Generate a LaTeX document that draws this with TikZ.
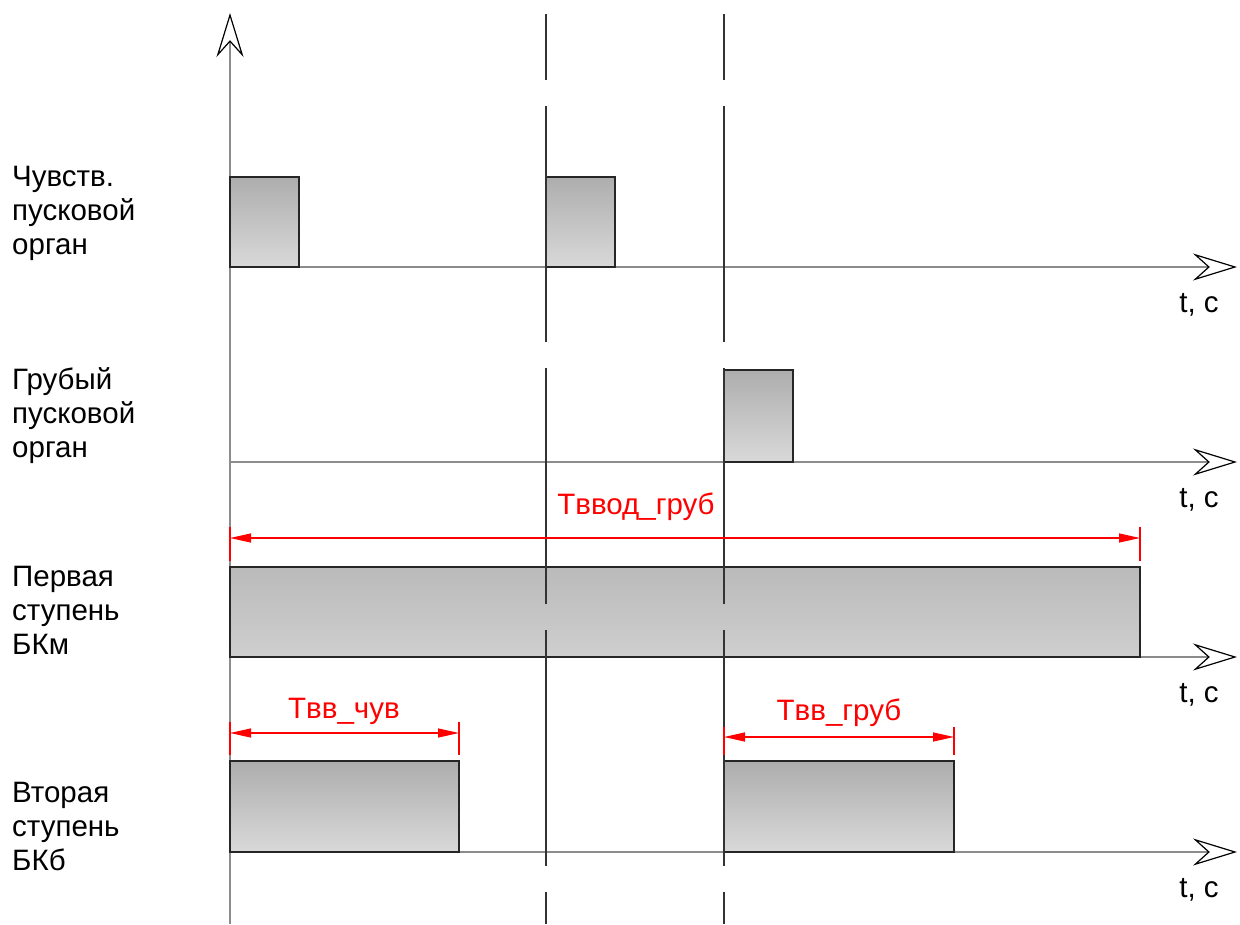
\documentclass[tikz,border=0pt]{standalone}
\usepackage{fontspec}
\setmainfont{Liberation Sans}
\usetikzlibrary{arrows.meta}

\tikzset{
  axis/.style={draw=black!45, line width=1.6pt,
    -{Stealth[open,color=black,line width=1.2pt,length=44pt,width=27pt,inset=15pt]}},
  pulse/.style={draw=black!85, line width=1.4pt, top color=black!32, bottom color=black!15},
  widepulse/.style={pulse, top color=black!27, bottom color=black!19},
  marker/.style={draw=black!80, line width=1.5pt, dash pattern=on 236pt off 26pt, dash phase=170pt},
  dimline/.style={red, line width=1.3pt,
    {Triangle[length=21pt,width=9pt]}-{Triangle[length=21pt,width=9pt]}},
  dimext/.style={red, line width=1.3pt},
  lbl/.style={font=\fontsize{29.5}{34}\selectfont, align=left, anchor=west, inner sep=0pt},
  tlbl/.style={font=\fontsize{29.5}{34}\selectfont, inner sep=0pt},
  dimlbl/.style={font=\fontsize{29.5}{34}\selectfont, text=red, inner sep=0pt}
}

\begin{document}
\begin{tikzpicture}[x=1pt,y=-1pt]
  \useasboundingbox (0,0) rectangle (1240,924);

  % time axes
  \coordinate (o)  at (230,924);
  \coordinate (oy) at (230,13);
  \draw[axis] (o) -- (oy);
  \foreach \y/\n in {267/1,462/2,657/3,852/4} {
    \coordinate (a\n) at (230,\y);
    \coordinate (e\n) at (1237,\y);
    \draw[axis] (a\n) -- (e\n);
    \node[tlbl] (t\n) at (1199,\y+38) {t, с};
  }

  % pulses
  \shade[pulse] (230,177) rectangle (299,267);
  \shade[pulse] (546,177) rectangle (615,267);
  \shade[pulse] (724,370) rectangle (793,462);
  \shade[widepulse] (230,567) rectangle (1140,657);
  \shade[pulse] (230,761) rectangle (459,852);
  \shade[pulse] (724,761) rectangle (954,852);

  % markers
  \coordinate (m1t) at (546,14);
  \coordinate (m1b) at (546,924);
  \coordinate (m2t) at (724,14);
  \coordinate (m2b) at (724,924);
  \draw[marker] (m1t) -- (m1b);
  \draw[marker] (m2t) -- (m2b);

  % signal names
  \node[lbl] (chuv) at (12,213) {Чувств.\\пусковой\\орган};
  \node[lbl] (grub) at (12,416) {Грубый\\пусковой\\орган};
  \node[lbl] (perv) at (12,610) {Первая\\ступень\\БКм};
  \node[lbl] (vtor) at (12,826) {Вторая\\ступень\\БКб};

  % Tввод_груб
  \coordinate (d1l) at (230,538);
  \coordinate (d1r) at (1140,538);
  \draw[dimext] (230,527) -- (230,561);
  \draw[dimext] (1140,527) -- (1140,561);
  \draw[dimline] (d1l) -- (d1r);
  \node[dimlbl] (tvvod) at (636,507) {Tввод\_груб};

  % Tвв_чув
  \coordinate (d2l) at (230,733);
  \coordinate (d2r) at (459,733);
  \draw[dimext] (230,722) -- (230,755);
  \draw[dimext] (459,722) -- (459,755);
  \draw[dimline] (d2l) -- (d2r);
  \node[dimlbl] (tvvchuv) at (344,711) {Tвв\_чув};

  % Tвв_груб
  \coordinate (d3l) at (724,737);
  \coordinate (d3r) at (954,737);
  \draw[dimext] (724,727) -- (724,755);
  \draw[dimext] (954,727) -- (954,755);
  \draw[dimline] (d3l) -- (d3r);
  \node[dimlbl] (tvvgrub) at (839,713) {Tвв\_груб};
\end{tikzpicture}
\end{document}
